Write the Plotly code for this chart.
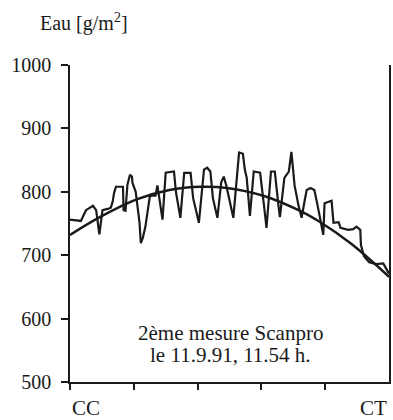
import plotly.graph_objects as go

# Measured water content along the track (CC -> CT), g/m2
meas_x = [0.00, 0.17, 0.25, 0.36, 0.41, 0.44, 0.46, 0.49, 0.51, 0.59, 0.64, 0.67, 0.69, 0.72, 0.83,
          0.84, 0.87, 0.90, 0.94, 0.97, 0.98, 1.03, 1.06, 1.09, 1.11, 1.14, 1.18, 1.22, 1.25, 1.28,
          1.34, 1.37, 1.40, 1.45, 1.50, 1.63, 1.66, 1.73, 1.79, 1.89, 1.93, 2.02, 2.10, 2.15, 2.20,
          2.24, 2.31, 2.37, 2.41, 2.45, 2.56, 2.65, 2.71, 2.74, 2.77, 2.82, 2.88, 2.98, 3.04, 3.08,
          3.15, 3.21, 3.27, 3.29, 3.36, 3.43, 3.47, 3.52, 3.58, 3.63, 3.68, 3.71, 3.77, 3.83, 3.88,
          3.91, 3.97, 3.99, 4.10, 4.13, 4.21, 4.24, 4.36, 4.44, 4.49, 4.55, 4.56, 4.61, 4.69, 4.80,
          4.91, 5.00]
meas_y = [756, 754, 771, 778, 771, 752, 733, 756, 771, 773, 775, 785, 798, 808, 808,
          771, 770, 811, 827, 824, 814, 800, 779, 751, 719, 727, 744, 771, 792, 794,
          794, 810, 790, 756, 830, 832, 800, 759, 830, 830, 790, 751, 835, 838, 832,
          790, 759, 815, 824, 810, 759, 862, 860, 835, 822, 762, 832, 830, 779, 743,
          832, 832, 776, 760, 822, 832, 863, 810, 779, 759, 787, 803, 806, 803, 779,
          762, 732, 782, 786, 751, 752, 743, 740, 741, 745, 740, 716, 698, 689, 686,
          687, 671]

# Fitted smooth curve
fit_x = [0.0, 0.467, 1.044, 1.558, 2.056, 2.461, 3.053, 3.583, 3.894, 4.408, 5.0]
fit_y = [732, 760, 788, 803, 808, 806, 793, 771, 754, 718, 666]

y_ticks = [500, 600, 700, 800, 900, 1000]
x_ticks = [0, 1, 2, 3, 4]
x_end_labels = ["CC", "CT"]
note_lines = ["2ème mesure Scanpro", "le 11.9.91, 11.54 h."]

FONT = "Liberation Serif"
INK = "#1a1a1a"

fig = go.Figure()
fig.add_trace(go.Scatter(x=meas_x, y=meas_y, mode="lines",
                         line=dict(color=INK, width=2.2), hoverinfo="skip"))
fig.add_trace(go.Scatter(x=fit_x, y=fit_y, mode="lines",
                         line=dict(color=INK, width=2.5, shape="spline"), hoverinfo="skip"))

fig.update_layout(
    width=393, height=420,
    margin=dict(l=70, r=2, t=65, b=38),
    plot_bgcolor="white", paper_bgcolor="white",
    showlegend=False,
    font=dict(family=FONT, size=20, color=INK),
    xaxis=dict(range=[0, 5], tickvals=x_ticks, showticklabels=False,
               ticks="outside", ticklen=6, tickwidth=1.5, tickcolor=INK,
               showline=True, linecolor=INK, linewidth=1.5,
               showgrid=False, zeroline=False, fixedrange=True),
    yaxis=dict(range=[500, 1000], tickvals=y_ticks,
               ticks="outside", ticklen=7, tickwidth=1.5, tickcolor=INK,
               showline=True, linecolor=INK, linewidth=1.5, mirror=True,
               ticklabelstandoff=6, tickfont=dict(family=FONT, size=20, color=INK),
               showgrid=False, zeroline=False, fixedrange=True),
    annotations=[
        dict(text="Eau [g/m<sup>2</sup>]", xref="paper", yref="paper", x=-0.101, y=1.133,
             xanchor="left", yanchor="middle", showarrow=False,
             font=dict(family=FONT, size=20, color=INK)),
        dict(text=note_lines[0], x=2.51, y=578, showarrow=False,
             xanchor="center", yanchor="middle",
             font=dict(family=FONT, size=21, color=INK)),
        dict(text=note_lines[1], x=2.51, y=542, showarrow=False,
             xanchor="center", yanchor="middle",
             font=dict(family=FONT, size=21, color=INK)),
        dict(text=x_end_labels[0], xref="x", yref="paper", x=0, y=-0.083, xanchor="left",
             yanchor="middle", showarrow=False, font=dict(family=FONT, size=21, color=INK)),
        dict(text=x_end_labels[1], xref="x", yref="paper", x=5, y=-0.083, xanchor="right",
             yanchor="middle", showarrow=False, font=dict(family=FONT, size=21, color=INK)),
    ],
)

fig.write_html("out.html", config={"displayModeBar": False},
               post_script="document.body.style.margin='0px';document.body.style.overflow='hidden';")
